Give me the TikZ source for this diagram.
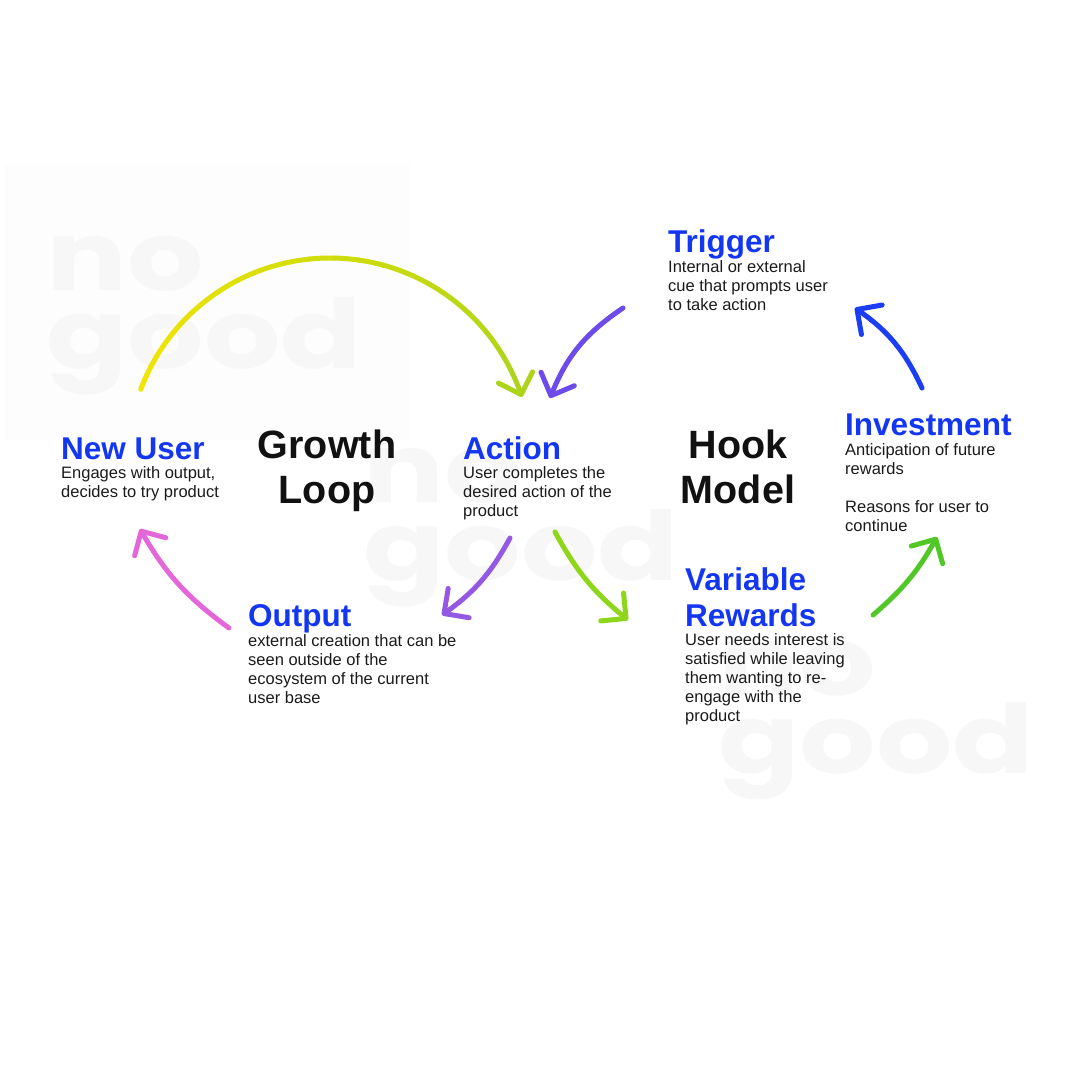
\documentclass[tikz,border=0pt]{standalone}
\usepackage{fontspec}
\setmainfont{Liberation Sans}
\newfontfamily\wmfont{Poppins}
\usepackage{xcolor}
\usepackage{tikz}
\usetikzlibrary{arrows.meta,positioning,calc}

\definecolor{headblue}{HTML}{1336F2}
\definecolor{titletext}{HTML}{111111}
\definecolor{bodytext}{HTML}{1A1A1A}
\definecolor{wmgray}{HTML}{F7F7F7}
\definecolor{wmbox}{HTML}{FDFDFD}
\definecolor{arcyellow}{HTML}{F2E500}
\definecolor{arclime}{HTML}{ADD41A}
\definecolor{violetarr}{HTML}{6D4AEA}
\definecolor{bluearr}{HTML}{1B3EF5}
\definecolor{greenarr}{HTML}{52C728}
\definecolor{limearr}{HTML}{8ED61A}
\definecolor{purplearr}{HTML}{9459E3}
\definecolor{pinkarr}{HTML}{E467D9}

\newcommand{\wmword}[1]{\scalebox{1.25}[1]{#1}}

\tikzset{
  headtxt/.style={anchor=base west, inner sep=0pt, text=headblue,
    font=\bfseries\fontsize{31.5}{36}\selectfont},
  bodytxt/.style={anchor=north west, inner sep=0pt, align=left, text=bodytext,
    font=\fontsize{16.5}{19}\selectfont},
  bigtitle/.style={anchor=north, inner sep=0pt, align=center, text=titletext,
    font=\bfseries\fontsize{39.5}{45}\selectfont},
  wmark/.style={anchor=base west, inner sep=0pt, text=wmgray,
    font=\wmfont\bfseries\fontsize{96}{78}\selectfont},
  arcline/.style={line width=5pt, line cap=round},
  cyclearrow/.style={line width=5pt, line cap=round,
    -{Straight Barb[length=18pt,width=36pt,round]}}
}

\begin{document}
\begin{tikzpicture}[x=1pt,y=1pt]
		\useasboundingbox (0,0) rectangle (1080,-1080);

		% faint "no good" marks behind everything
		\fill[wmbox] (5,-165) rectangle (410,-440);
		\node[wmark] (wmAno) at (46,-290) {\wmword{no}};
		\node[wmark] (wmAgood) at (46,-368) {\wmword{good}};
		\node[wmark] (wmBno) at (363,-502) {\wmword{no}};
		\node[wmark] (wmBgood) at (363,-580) {\wmword{good}};
		\node[wmark] (wmCno) at (718,-695) {\wmword{no}};
		\node[wmark] (wmCgood) at (718,-773) {\wmword{good}};

		% growth loop
		\node[headtxt] (newuser) at (61,-459) {New User};
		\node[bodytxt] (newusertxt) at (61,-466.2) {Engages with output,\\decides to try product};
		\node[bigtitle] (growth) at (327,-430) {Growth\\Loop};

		\node[headtxt] (action) at (463,-459) {Action};
		\node[bodytxt] (actiontxt) at (463,-466.2) {User completes the\\desired action of the\\product};

		\node[headtxt] (output) at (248,-626) {Output};
		\node[bodytxt] (outputtxt) at (248,-634.2) {external creation that can be\\seen outside of the\\ecosystem of the current\\user base};

		% hook model
		\node[bigtitle] (hook) at (738,-430) {Hook\\Model};

		\node[headtxt] (trigger) at (668,-252) {Trigger};
		\node[bodytxt] (triggertxt) at (668,-260.2) {Internal or external\\cue that prompts user\\to take action};

		\node[headtxt] (invest) at (845,-435) {Investment};
		\node[bodytxt] (investtxt) at (845,-443.2) {Anticipation of future\\rewards\\[19pt]Reasons for user to\\continue};

		\node[headtxt, align=left, anchor=north west] (reward) at (685,-567.5) {Variable\\Rewards};
		\node[bodytxt] (rewardtxt) at (685,-633.2) {User needs interest is\\satisfied while leaving\\them wanting to re-\\engage with the\\product};

		% arrow ends
		\coordinate (arcC) at (330,-460);
		\coordinate (violetA) at (623,-308);
		\coordinate (violetB) at (550,-398);
		\coordinate (blueA) at (922,-388);
		\coordinate (blueB) at (855,-308);
		\coordinate (greenA) at (873,-615);
		\coordinate (greenB) at (937,-537);
		\coordinate (limeA) at (555,-532);
		\coordinate (limeB) at (628,-620);
		\coordinate (purpleA) at (510,-538);
		\coordinate (purpleB) at (442,-615);
		\coordinate (pinkA) at (229,-628);
		\coordinate (pinkB) at (140,-529);

		% big arc, yellow into lime
		\foreach \i [evaluate=\i as \pct using int(\i*100/19)] in {0,...,18}
			\draw[arcline, arclime!\pct!arcyellow] ($(arcC)+(159.5-\i*7.065:202)$)
				arc[start angle=159.5-\i*7.065, delta angle=-7.065, radius=202];
		\draw[cyclearrow, arclime] ($(arcC)+(25.265:202)$)
			arc[start angle=25.265, delta angle=-7.065, radius=202];

		\draw[cyclearrow, violetarr] (violetA) to[bend right=17] (violetB);
		\draw[cyclearrow, bluearr] (blueA) to[bend right=15] (blueB);
		\draw[cyclearrow, greenarr] (greenA) to[bend right=10] (greenB);
		\draw[cyclearrow, limearr] (limeA) to[bend right=11] (limeB);
		\draw[cyclearrow, purplearr] (purpleA) to[bend left=13] (purpleB);
		\draw[cyclearrow, pinkarr] (pinkA) to[bend left=12] (pinkB);
	\end{tikzpicture}
\end{document}
